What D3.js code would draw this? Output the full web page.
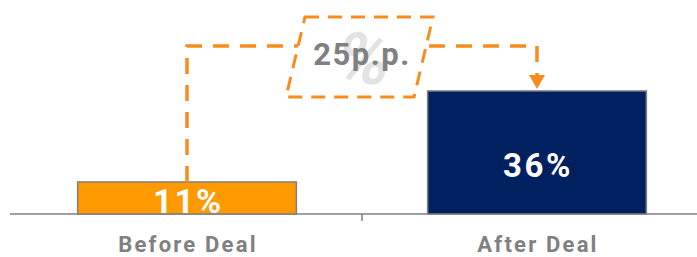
<!DOCTYPE html>
<html>
<head>
<meta charset="utf-8">
<script src="https://cdn.jsdelivr.net/npm/d3@7"></script>
<style>
  body { margin: 0; background: #fff; }
  text { font-family: Roboto, "Noto Sans", sans-serif; font-weight: bold; }
</style>
</head>
<body>
<script>
var svgWidth = 697;
var svgHeight = 257;

var categories = ["Before Deal", "After Deal"];
var values = [11, 36];
var valueLabels = ["11%", "36%"];
var diffLabel = "25p.p.";

var barColors = ["#FF9900", "#002060"];
var dashColor = "#FA8C1E";
var grey = "#808080";

var svg = d3.select("body").append("svg")
    .attr("width", svgWidth)
    .attr("height", svgHeight);

// scales
var xScale = d3.scaleBand()
    .domain(categories)
    .range([12, 712]);

var yScale = d3.scaleLinear()
    .domain([2.2, 40])
    .range([214, 76.4]);

var barW = xScale.bandwidth() * 0.625;
var baseY = yScale(2.2);

function cx(d) { return xScale(d) + xScale.bandwidth() / 2; }

// axis line + middle tick
svg.append("line")
    .attr("x1", 10).attr("x2", svgWidth)
    .attr("y1", baseY).attr("y2", baseY)
    .attr("stroke", grey).attr("stroke-width", 1.5);

svg.append("line")
    .attr("x1", xScale(categories[1])).attr("x2", xScale(categories[1]))
    .attr("y1", baseY).attr("y2", baseY + 7)
    .attr("stroke", grey).attr("stroke-width", 1.5);

// bars
svg.selectAll("rect.bar")
    .data(values)
    .enter()
    .append("rect")
    .attr("class", "bar")
    .attr("x", function(d, i) { return cx(categories[i]) - barW / 2; })
    .attr("y", function(d) { return yScale(d); })
    .attr("width", barW)
    .attr("height", function(d) { return baseY - yScale(d); })
    .attr("fill", function(d, i) { return barColors[i]; })
    .attr("stroke", grey)
    .attr("stroke-width", 1.5);

// value labels
svg.append("text")
    .attr("x", cx(categories[0]) + 1)
    .attr("y", baseY - 1)
    .attr("text-anchor", "middle")
    .attr("font-size", 34)
    .attr("letter-spacing", 2)
    .attr("fill", "#fff")
    .text(valueLabels[0]);

svg.append("text")
    .attr("x", cx(categories[1]) + 1)
    .attr("y", 177)
    .attr("text-anchor", "middle")
    .attr("font-size", 33)
    .attr("letter-spacing", 2.5)
    .attr("fill", "#fff")
    .text(valueLabels[1]);

// category labels
svg.selectAll("text.cat")
    .data(categories)
    .enter()
    .append("text")
    .attr("class", "cat")
    .attr("x", function(d) { return cx(d) + 1; })
    .attr("y", 252)
    .attr("text-anchor", "middle")
    .attr("font-size", 22)
    .attr("letter-spacing", 2.2)
    .attr("fill", grey)
    .text(function(d) { return d; });

// dashed connector
var topY = 46;
var x0 = cx(categories[0]), x1 = cx(categories[1]);
var arrowTip = yScale(values[1]) - 2;

svg.append("path")
    .attr("d", "M" + x0 + "," + yScale(values[0]) + "V" + topY + "H" + x1 + "V" + (arrowTip - 12))
    .attr("fill", "none")
    .attr("stroke", dashColor)
    .attr("stroke-width", 3.5)
    .attr("stroke-dasharray", "16 11");

svg.append("path")
    .attr("d", "M" + (x1 - 8) + "," + (arrowTip - 14) + "L" + (x1 + 8) + "," + (arrowTip - 14) + "L" + x1 + "," + arrowTip + "Z")
    .attr("fill", dashColor);

// difference box
var boxPts = [[305, 17], [433, 17], [414, 97], [286, 97]];
svg.append("polygon")
    .attr("points", boxPts.map(function(p) { return p.join(","); }).join(" "))
    .attr("fill", "#fff")
    .attr("stroke", dashColor)
    .attr("stroke-width", 3)
    .attr("stroke-dasharray", "14 9");

svg.append("text")
    .attr("transform", "translate(359,84) skewX(-12)")
    .attr("text-anchor", "middle")
    .attr("font-size", 72)
    .attr("fill", "#E3E3E3")
    .text("%");

svg.append("text")
    .attr("x", 362)
    .attr("y", 65)
    .attr("text-anchor", "middle")
    .attr("font-size", 31)
    .attr("letter-spacing", 1.5)
    .attr("fill", grey)
    .text(diffLabel);
</script>
</body>
</html>
